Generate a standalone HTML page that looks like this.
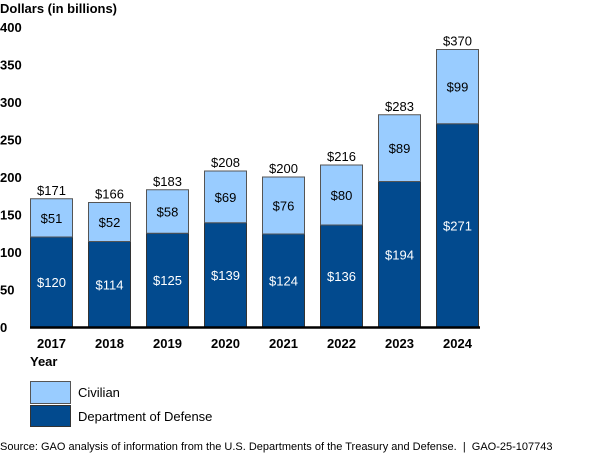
<!DOCTYPE html>
<html><head><meta charset="utf-8"><style>
body{margin:0;background:#fff;font-family:"Liberation Sans",Arial,sans-serif}
svg text{font-family:"Liberation Sans",Arial,sans-serif}
</style></head><body>
<svg id="c" width="600" height="463">
<text x="0" y="13" font-size="13" font-weight="bold">Dollars (in billions)</text>
<text x="30" y="366" font-size="13" font-weight="bold">Year</text>
<rect x="30.5" y="381.5" width="40" height="22" fill="#99ccff" stroke="#555"/>
<text x="78" y="397" font-size="13">Civilian</text>
<rect x="30.5" y="405.5" width="40" height="21" fill="#024a8e" stroke="#333"/>
<text x="78" y="421" font-size="13">Department of Defense</text>
<text x="0" y="450" font-size="11" xml:space="preserve">Source: GAO analysis of information from the U.S. Departments of the Treasury and Defense.  |  GAO-25-107743</text>
</svg>
<script>
const years=["2017","2018","2019","2020","2021","2022","2023","2024"];
const dod=[120,114,125,139,124,136,194,271];
const civ=[51,52,58,69,76,80,89,99];
const totals=[171,166,183,208,200,216,283,370];
const yTicks=[0,50,100,150,200,250,300,350,400];
const svg=document.getElementById('c');
const NS='http://www.w3.org/2000/svg';
const y=v=>327-v*0.75;
const x=i=>30+i*58;
function mk(t,a,txt){const e=document.createElementNS(NS,t);for(const k in a)e.setAttribute(k,a[k]);if(txt!=null)e.textContent=txt;svg.appendChild(e);return e;}
yTicks.forEach(t=>{
const e=mk('text',{x:0,y:y(t)+5,'font-size':13,'font-weight':'bold'},t);


});
years.forEach((yr,i)=>{
const bx=x(i),w=43;
const d=mk('rect',{x:bx+0.5,y:y(dod[i]),width:w-1,height:y(0)-y(dod[i]),fill:'#024a8e',stroke:'#333'});


const c=mk('rect',{x:bx+0.5,y:y(dod[i]+civ[i]),width:w-1,height:y(dod[i])-y(dod[i]+civ[i]),fill:'#99ccff',stroke:'#555'});


const l1=mk('text',{x:bx+w/2,y:(y(0)+y(dod[i]))/2+5,'font-size':13,fill:'#fff','text-anchor':'middle'},'$'+dod[i]);


const l2=mk('text',{x:bx+w/2,y:(y(dod[i])+y(dod[i]+civ[i]))/2+5,'font-size':13,'text-anchor':'middle'},'$'+civ[i]);


const l3=mk('text',{x:bx+w/2,y:y(totals[i])-4,'font-size':13,'text-anchor':'middle'},'$'+totals[i]);


const xl=mk('text',{x:bx+w/2,y:348,'font-size':13,'font-weight':'bold','text-anchor':'middle'},yr);


});
const ax=mk('line',{x1:30,x2:480,y1:327.5,y2:327.5,stroke:'#000','stroke-width':2.5});


</script>
</body></html>
